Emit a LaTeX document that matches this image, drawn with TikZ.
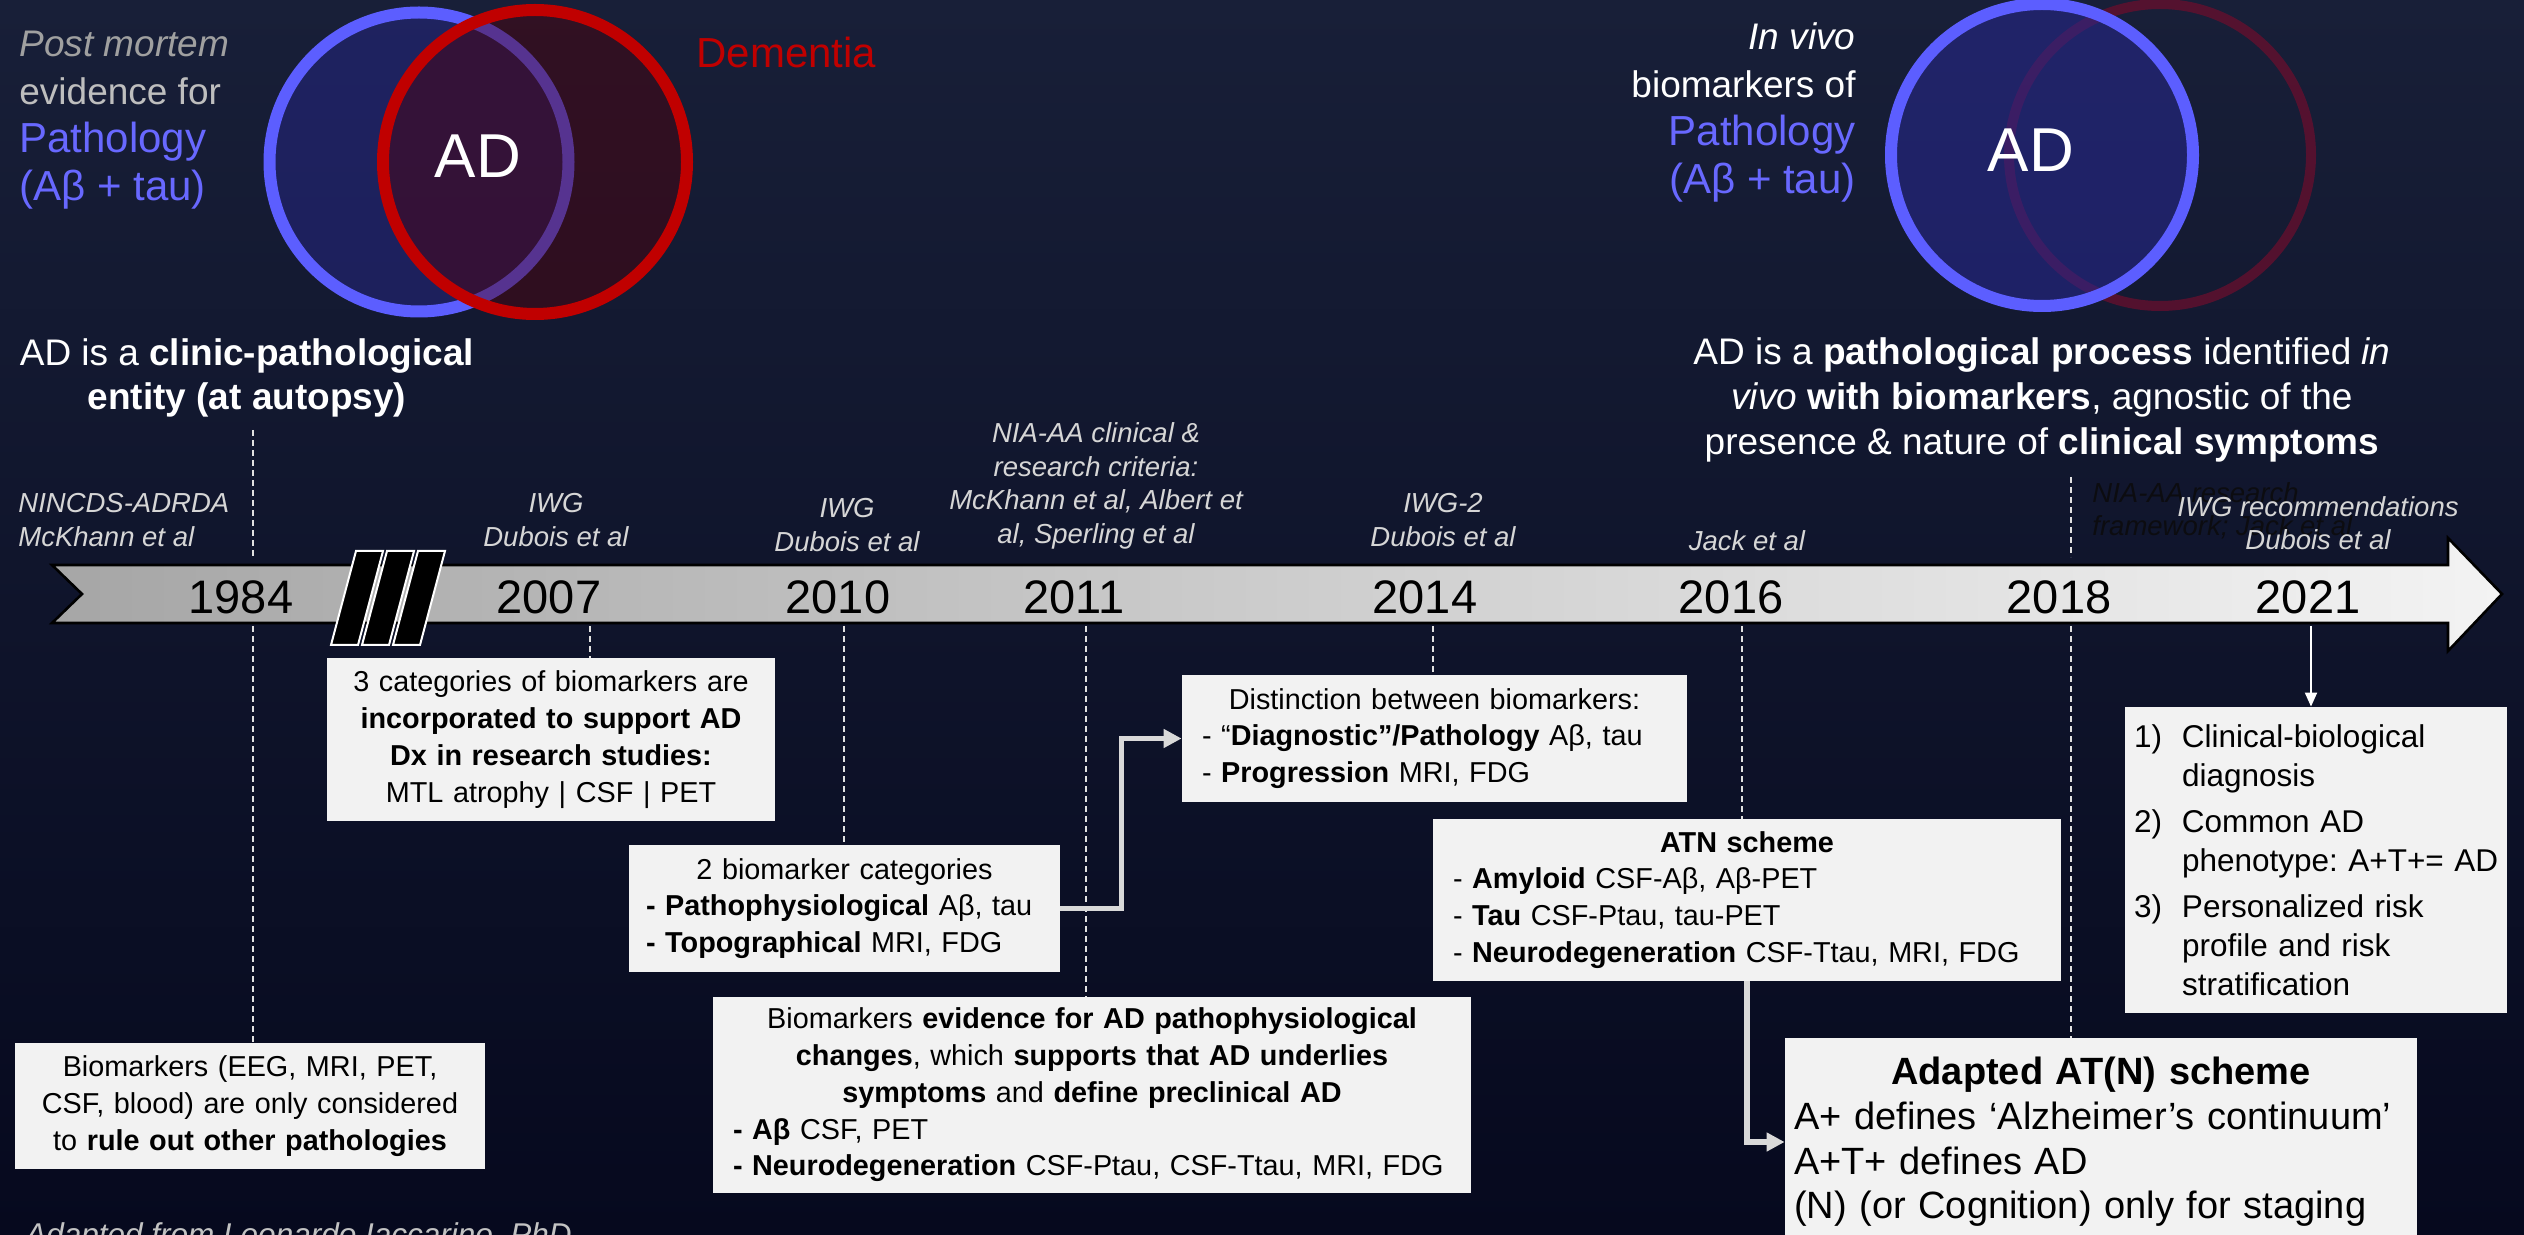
\documentclass[tikz,border=0pt]{standalone}
\usepackage{fontspec}
\setmainfont{Liberation Sans}
\usetikzlibrary{arrows.meta}
\setlength{\parindent}{0pt}

\definecolor{bgtop}{RGB}{24,31,56}
\definecolor{bgbot}{RGB}{6,9,30}
\definecolor{boxgray}{RGB}{242,242,242}
\definecolor{bandleft}{RGB}{166,166,166}
\definecolor{bandright}{RGB}{243,243,243}
\definecolor{pathblue}{RGB}{104,104,255}
\definecolor{ringblue}{RGB}{92,94,255}
\definecolor{fillblue}{RGB}{40,40,145}
\definecolor{demred}{RGB}{192,0,0}
\definecolor{fillred}{RGB}{80,0,10}
\definecolor{dimred}{RGB}{105,14,45}
\definecolor{citegray}{RGB}{214,214,214}
\definecolor{mortemgray}{RGB}{160,160,160}
\definecolor{evidgray}{RGB}{190,190,190}
\definecolor{dashwhite}{RGB}{225,225,225}
\definecolor{conngray}{RGB}{217,217,217}
\definecolor{creditgray}{RGB}{195,195,195}
\definecolor{framedark}{RGB}{12,12,16}

\newcommand\pathtxt[1]{\textcolor{pathblue}{\fontsize{21}{24}\selectfont #1}}
\newcommand\numitem[1]{\makebox[24pt][l]{#1}}
\newcommand\numcont{\hspace*{24pt}}

\tikzset{
  infobox/.style={fill=boxgray, text=black, inner xsep=10pt, inner ysep=2pt,
    font=\fontsize{14.4}{18.4}\selectfont},
  citelabel/.style={text=citegray, inner sep=0pt, align=center,
    font=\itshape\fontsize{13.75}{16.75}\selectfont},
  yearlabel/.style={text=black, inner sep=0pt, font=\fontsize{23.5}{28}\selectfont},
  yearline/.style={dashwhite, line width=0.7pt, dash pattern=on 3pt off 2pt},
  elbow/.style={conngray, line width=2.6pt, -{Triangle[length=9pt,width=9pt]}},
  headline/.style={text=white, align=center, inner sep=0pt,
    font=\fontsize{18.5}{22.4}\selectfont},
  venntext/.style={inner sep=0pt, font=\fontsize{18.5}{24}\selectfont},
}

\begin{document}
\frenchspacing
\begin{tikzpicture}[x=0.5pt, y=-0.5pt]

%---------------------------------------
% Canvas
%---------------------------------------
\useasboundingbox (0,0) rectangle (2524,1235);
\shade[top color=bgtop, bottom color=bgbot] (0,0) rectangle (2524,1235);

%---------------------------------------
% Venn: post mortem definition
%---------------------------------------
\begin{scope}
  \fill[fillblue, fill opacity=0.45] (419,162) circle[radius=74.75pt];
  \draw[ringblue, line width=6pt] (419,162) circle[radius=74.75pt];
  \fill[fillred, fill opacity=0.45] (535,162) circle[radius=76pt];
  \draw[demred, line width=6pt] (535,162) circle[radius=76pt];

  \node[text=white, inner sep=0pt, font=\fontsize{31}{36}\selectfont] (adleft) at (478,156) {AD};
  \node[anchor=west, inner sep=0pt, text=demred, font=\fontsize{21}{24}\selectfont] (dementia) at (696,52) {Dementia};
  \node[venntext, anchor=west, align=left] (postmortem) at (19,120)
    {\textcolor{mortemgray}{\itshape Post mortem}\\ \textcolor{evidgray}{evidence for}\\ \pathtxt{Pathology}\\ \pathtxt{(Aβ + tau)}};
  \node[headline] (clinpath) at (247,378)
    {AD is a \textbf{clinic-pathological}\\ \textbf{entity (at autopsy)}};
\end{scope}

%---------------------------------------
% Venn: in vivo definition
%---------------------------------------
\begin{scope}
  \draw[dimred, line width=5pt, opacity=0.75] (2160,155) circle[radius=75.5pt];
  \fill[fillblue, fill opacity=0.55] (2042,155) circle[radius=75.5pt];
  \draw[ringblue, line width=6pt] (2042,155) circle[radius=75.5pt];

  \node[text=white, inner sep=0pt, font=\fontsize{31}{36}\selectfont] (adright) at (2031,150) {AD};
  \node[venntext, anchor=east, align=right, text=white] (invivo) at (1856,112)
    {\textit{In vivo}\\ biomarkers of\\ \pathtxt{Pathology}\\ \pathtxt{(Aβ + tau)}};
  \node[headline] (pathproc) at (2042,400)
    {AD is a \textbf{pathological process} identified \textit{in}\\
     \textit{vivo} \textbf{with biomarkers}, agnostic of the\\
     presence \& nature of \textbf{clinical symptoms}};
\end{scope}

%---------------------------------------
% Year positions (label x / tick x)
%---------------------------------------
\foreach \yr/\lx/\tx in {1984/241/253, 2007/549/590, 2010/838/844, 2011/1074/1086,
                         2014/1425/1433, 2016/1731/1742, 2018/2059/2071, 2021/2308/2311}{
  \coordinate (y\yr) at (\tx,626);
}

%---------------------------------------
% Criteria boxes
%---------------------------------------
\node[infobox, text width=215pt, minimum height=63pt, align=center] (bxRule) at (250,1106)
  {Biomarkers (EEG, MRI, PET,\\ CSF, blood) are only considered\\ to \textbf{rule out other pathologies}};

\node[infobox, text width=204pt, minimum height=81.5pt, align=center] (bxCateg) at (551,739.5)
  {3 categories of biomarkers are\\ \textbf{incorporated to support AD}\\ \textbf{Dx in research studies:}\\ MTL atrophy | CSF | PET};

\node[infobox, inner xsep=8.5pt, text width=198.5pt, minimum height=63.5pt, align=left] (bxTwo) at (844.5,908.5)
  {{\centering 2 biomarker categories\par}\textbf{- Pathophysiological} Aβ, tau\\ \textbf{- Topographical} MRI, FDG};

\node[infobox, text width=359pt, minimum height=98pt, align=center] (bxPrecl) at (1092,1095)
  {Biomarkers \textbf{evidence for AD pathophysiological}\\ \textbf{changes}, which \textbf{supports that AD underlies}\\
   \textbf{symptoms} and \textbf{define preclinical AD}\par\raggedright
   \textbf{- Aβ} CSF, PET\\ \textbf{- Neurodegeneration} CSF-Ptau, CSF-Ttau, MRI, FDG\par};

\node[infobox, text width=232.5pt, minimum height=63.5pt, align=left] (bxDist) at (1434.5,738.5)
  {{\centering Distinction between biomarkers:\par}- “\textbf{Diagnostic”/Pathology} Aβ, tau\\ - \textbf{Progression} MRI, FDG};

\node[infobox, text width=294pt, minimum height=81pt, align=left] (bxATN) at (1747,900)
  {{\centering\textbf{ATN scheme}\par}- \textbf{Amyloid} CSF-Aβ, Aβ-PET\\ - \textbf{Tau} CSF-Ptau, tau-PET\\
   - \textbf{Neurodegeneration} CSF-Ttau, MRI, FDG};

\node[infobox, inner xsep=4.5pt, text width=307pt, minimum height=104pt, align=left,
      font=\fontsize{19}{22.3}\selectfont] (bxAdapt) at (2101,1142)
  {{\centering\textbf{Adapted AT(N) scheme}\par}A+ defines ‘Alzheimer’s continuum’\\ A+T+ defines AD\\
   (N) (or Cognition) only for staging};

\node[infobox, inner xsep=4.5pt, text width=182pt, minimum height=153pt, align=left,
      font=\fontsize{15.75}{19.5}\selectfont] (bxIWG) at (2316,860)
  {\numitem{1)}Clinical-biological\\ \numcont diagnosis\\[3.5pt]
   \numitem{2)}Common AD\\ \mbox{\numcont phenotype: A+T+= AD}\\[3.5pt]
   \numitem{3)}Personalized risk\\ \numcont profile and risk\\ \numcont stratification};

%---------------------------------------
% Dashed year lines
%---------------------------------------
\draw[yearline] (253,430) -- (253,557);
\draw[yearline] (2071,477) -- (2071,557);
\foreach \yr/\bx in {1984/bxRule, 2007/bxCateg, 2010/bxTwo, 2011/bxPrecl,
                     2014/bxDist, 2016/bxATN, 2018/bxAdapt}{
  \draw[yearline] (y\yr) -- (y\yr |- \bx.north);
}

%---------------------------------------
% Timeline band
%---------------------------------------
\shadedraw[left color=bandleft, right color=bandright, draw=black, line width=1.3pt]
  (52,565) -- (2448,565) -- (2448,538) -- (2502,594) -- (2448,651) -- (2448,623)
  -- (52,623) -- (82,594) -- cycle;

% break marks
\foreach \k in {0,1,2}{
  \filldraw[fill=black, draw=white, line width=1pt]
    ({331+31*\k},645) -- ({358+31*\k},645) -- ({383+31*\k},551) -- ({356+31*\k},551) -- cycle;
}

\foreach \yr/\lx in {1984/241, 2007/549, 2010/838, 2011/1074, 2014/1425, 2016/1731, 2018/2059, 2021/2308}{
  \node[yearlabel] (lab\yr) at (\lx,597) {\yr};
}

%---------------------------------------
% Citations above the band
%---------------------------------------
\node[citelabel, anchor=west, align=left] (nincds) at (18,520) {NINCDS-ADRDA\\McKhann et al};
\node[citelabel] (iwgA) at (556,520) {IWG\\Dubois et al};
\node[citelabel] (iwgB) at (847,525) {IWG\\Dubois et al};
\node[citelabel] (niaaa) at (1096,486) {NIA-AA clinical \&\\research criteria:\\McKhann et al, Albert et\\al, Sperling et al};
\node[citelabel] (iwgtwo) at (1443,520) {IWG-2\\Dubois et al};
\node[citelabel] (jack) at (1747,541) {Jack et al};
\node[citelabel, anchor=west, align=left, text=framedark] (niaframe) at (2092,511) {NIA-AA research\\framework; Jack et al};
\node[citelabel] (iwgrec) at (2318,523) {IWG recommendations\\Dubois et al};

%---------------------------------------
% Connectors
%---------------------------------------
\draw[elbow] (bxTwo.east) -- ++(61,0) |- (bxDist.west);
\draw[elbow] (bxATN.south) |- (bxAdapt.west);
\draw[white, line width=1pt, -{Triangle[length=7pt,width=6pt]}] (y2021) -- (y2021 |- bxIWG.north);

% credit line
\node[anchor=base west, inner sep=0pt, text=creditgray, font=\itshape\fontsize{15.75}{19}\selectfont]
  (credit) at (25,1245) {Adapted from Leonardo Iaccarino, PhD};

\end{tikzpicture}
\end{document}
